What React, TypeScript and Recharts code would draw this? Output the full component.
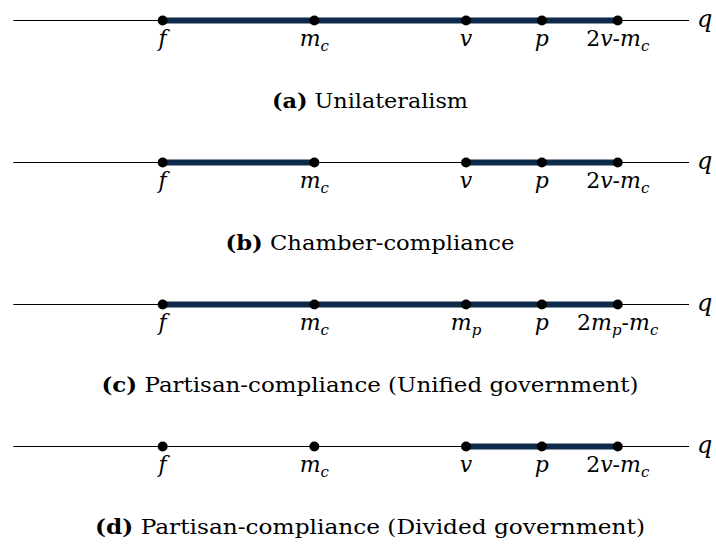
import { LineChart, Line, XAxis, YAxis, LabelList } from "recharts"

// positions along the policy line (f = 1 unit)
const axisStart = 0.015
const axisEnd = 4.47
const pointX = [1, 2, 3, 3.5, 4]

const labelsA = ["f", "m_c", "v", "p", "2v-m_c"]
const labelsB = ["f", "m_c", "v", "p", "2v-m_c"]
const labelsC = ["f", "m_c", "m_p", "p", "2m_p-m_c"]
const labelsD = ["f", "m_c", "v", "p", "2v-m_c"]
const panelLabels = [labelsA, labelsB, labelsC, labelsD]

// highlighted intervals per panel [from, to]
const panelSegments = [
  [[1, 4]],
  [[1, 2], [3, 4]],
  [[1, 4]],
  [[3, 4]],
]

const captionTags = ["(a)", "(b)", "(c)", "(d)"]
const captionTexts = [
  "Unilateralism",
  "Chamber-compliance",
  "Partisan-compliance (Unified government)",
  "Partisan-compliance (Divided government)",
]

const panelRows = [3, 2, 1, 0]

const W = 716
const H = 544
const margin = { top: 20.5, right: 27, bottom: 97.5, left: 11 }
const rowGap = (H - margin.top - margin.bottom) / 3
const captionWidths = [196, 289, 537, 550]
const NAVY = "#0e2a4b"
const FONT = "'DejaVu Serif', serif"

function mathText(label: string) {
  const parts = label.split(/_(\w)/)
  const out: any[] = []
  let lowered = false
  parts.forEach((part, i) => {
    if (!part) return
    if (i % 2 === 1) {
      out.push(
        <tspan key={i} fontSize={15} dy={5} fontStyle="italic">
          {part}
        </tspan>
      )
      lowered = true
    } else {
      part.split(/([0-9\-]+)/).forEach((run, j) => {
        if (!run) return
        const upright = /^[0-9\-]+$/.test(run)
        out.push(
          <tspan key={i + "-" + j} dy={lowered ? -5 : 0} fontSize={22} fontStyle={upright ? "normal" : "italic"}>
            {run}
          </tspan>
        )
        lowered = false
      })
    }
  })
  return out
}

const pointLabel = (props: any) => {
  const { x, y, value } = props
  if (!value) return null
  return (
    <text x={x} y={y + 25} textAnchor="middle" fontFamily={FONT} fill="#000">
      {mathText(value)}
    </text>
  )
}

const endLabel = (props: any) => {
  const { x, y, value } = props
  if (!value) return null
  return (
    <text x={x + 8} y={y + 6} fontFamily={FONT} fontSize={24} fontStyle="italic" fill="#000">
      {value}
    </text>
  )
}

export default function App() {
  return (
    <div style={{ position: "absolute", left: 0, top: 0, width: W, height: H, background: "#fff" }}>
      <LineChart width={W} height={H} margin={margin}>
        <XAxis type="number" dataKey="x" domain={[0, axisEnd]} hide allowDataOverflow />
        <YAxis type="number" dataKey="y" domain={[0, 3]} hide />
        {panelRows.map((row, pi) => (
          <Line
            key={"base" + pi}
            data={[
              { x: axisStart, y: row, name: "" },
              { x: axisEnd, y: row, name: "q" },
            ]}
            dataKey="y"
            stroke="#000"
            strokeWidth={1}
            dot={false}
            isAnimationActive={false}
          >
            <LabelList dataKey="name" content={endLabel} />
          </Line>
        ))}
        {panelRows.map((row, pi) =>
          panelSegments[pi].map((seg, si) => (
            <Line
              key={"seg" + pi + "-" + si}
              data={[
                { x: seg[0], y: row },
                { x: seg[1], y: row },
              ]}
              dataKey="y"
              stroke={NAVY}
              strokeWidth={6}
              dot={false}
              isAnimationActive={false}
            />
          ))
        )}
        {panelRows.map((row, pi) => (
          <Line
            key={"pts" + pi}
            data={pointX.map((x, i) => ({ x, y: row, name: panelLabels[pi][i] }))}
            dataKey="y"
            stroke="none"
            dot={{ r: 5, fill: "#000", stroke: "#000", strokeWidth: 0 }}
            isAnimationActive={false}
          >
            <LabelList dataKey="name" content={pointLabel} />
          </Line>
        ))}
        {panelRows.map((row, pi) => (
          <text
            key={"cap" + pi}
            x={370}
            y={margin.top + pi * rowGap + 87}
            textAnchor="middle"
            fontFamily={FONT}
            fontSize={21}
            textLength={captionWidths[pi]}
            lengthAdjust="spacingAndGlyphs"
            fill="#000"
          >
            <tspan fontWeight="bold">{captionTags[pi]}</tspan>
            <tspan>{" " + captionTexts[pi]}</tspan>
          </text>
        ))}
      </LineChart>
    </div>
  )
}
